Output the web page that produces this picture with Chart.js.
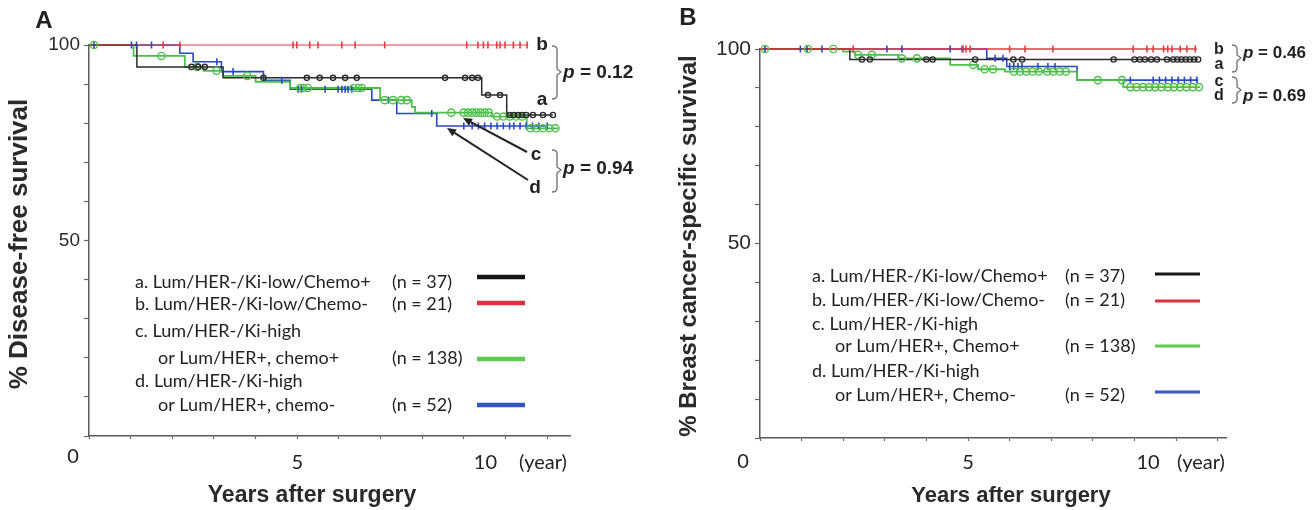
<!DOCTYPE html>
<html><head><meta charset="utf-8">
<script src="https://cdn.jsdelivr.net/npm/chart.js@4.4.1/dist/chart.umd.min.js"></script>
<style>
html,body{margin:0;padding:0;background:#fff;}
#wrap{position:relative;width:1314px;height:510px;overflow:hidden;}
canvas{position:absolute;top:0;}
</style></head><body>
<div id="wrap">
<canvas id="cA" width="657" height="510" style="left:0px"></canvas>
<canvas id="cB" width="657" height="510" style="left:657px"></canvas>
</div>
<script>
// ---------------- DATA ----------------
// Panel A: Disease-free survival (step times in years, survival in %)
const A_aTime = [0, 1.15, 3.22, 9.43, 10.03];
const A_aSurv = [100, 94.4, 91.6, 87.2, 82.1];
const A_aEnd = 11.14;
const A_aCens = [2.46, 2.62, 2.78, 4.19, 5.23, 5.54, 5.86, 6.15, 6.43, 8.55, 9.03, 9.2, 9.34, 9.58, 9.87, 10.1, 10.2, 10.3, 10.4, 10.5, 10.66, 10.9, 11.14];

const A_bTime = [0];
const A_bSurv = [100];
const A_bEnd = 10.55;
const A_bCens = [1.78, 2.18, 4.9, 4.99, 5.3, 5.5, 6.07, 6.39, 7.1, 9.07, 9.34, 9.47, 9.58, 9.79, 9.87, 9.99, 10.19, 10.35, 10.52];

const A_cTime = [0, 1.07, 2.3, 2.75, 3.22, 4.0, 4.83, 6.99, 7.75, 7.83, 9.67, 10.51];
const A_cSurv = [100, 97.2, 94.4, 93.4, 92.1, 90.6, 89.0, 85.9, 84.2, 82.7, 81.7, 78.7];
const A_cEnd = 11.26;
const A_cCens = [0.12, 1.74, 2.6, 3.06, 3.8, 5.07, 5.15, 5.26, 6.35, 6.47, 6.55, 7.1, 7.3, 7.5, 7.63, 8.7, 9.0, 9.1, 9.2, 9.3, 9.4, 9.5, 9.6, 9.8, 9.95, 10.1, 10.25, 10.4, 10.6, 10.75, 10.9, 11.05, 11.2];

const A_dTime = [0, 2.18, 2.5, 3.18, 4.19, 4.83, 6.79, 7.39, 8.35];
const A_dSurv = [100, 97.9, 95.7, 93.2, 91.0, 88.7, 85.9, 82.5, 79.3];
const A_dEnd = 11.02;
const A_dCens = [0.12, 1.02, 1.14, 1.5, 3.07, 3.46, 4.63, 5.02, 5.1, 5.67, 5.98, 6.07, 6.15, 6.22, 6.31, 7.19, 8.23, 9.0, 9.2, 9.35, 9.5, 9.65, 9.8, 9.95, 10.1, 10.2, 10.35, 10.5, 10.65, 10.8, 11.0];

// Panel B: Breast cancer-specific survival
const B_aTime = [0, 2.16];
const B_aSurv = [100, 97.3];
const B_aEnd = 10.53;
const B_aCens = [2.45, 2.64, 4.0, 4.15, 5.17, 6.09, 6.3, 8.5, 9.0, 9.13, 9.25, 9.4, 9.54, 9.78, 9.93, 10.03, 10.13, 10.23, 10.33, 10.43, 10.53];

const B_bTime = [0];
const B_bSurv = [100];
const B_bEnd = 10.5;
const B_bCens = [2.24, 4.88, 4.95, 5.05, 6.0, 6.37, 7.04, 8.97, 9.3, 9.45, 9.7, 9.8, 9.9, 10.1, 10.26, 10.46];

const B_cTime = [0, 2.0, 2.28, 3.32, 4.57, 5.24, 5.89, 7.62, 8.73];
const B_cSurv = [100, 99.3, 98.5, 97.6, 95.9, 94.8, 94.2, 92.0, 90.2];
const B_cEnd = 10.58;
const B_cCens = [0.12, 1.15, 1.76, 2.36, 2.69, 3.41, 3.77, 5.12, 5.4, 5.6, 6.1, 6.25, 6.4, 6.55, 6.7, 6.9, 7.05, 7.2, 7.35, 8.12, 8.7, 8.9, 9.05, 9.2, 9.35, 9.5, 9.65, 9.8, 9.95, 10.1, 10.25, 10.4, 10.55];

const B_dTime = [0, 5.45, 5.93, 7.62];
const B_dSurv = [100, 97.6, 95.5, 92.0];
const B_dEnd = 10.53;
const B_dCens = [0.12, 0.97, 1.13, 1.49, 3.05, 3.41, 4.57, 4.86, 5.65, 5.84, 6.0, 6.1, 6.2, 6.3, 6.68, 6.92, 7.09, 8.9, 9.45, 9.6, 9.75, 9.9, 10.05, 10.2, 10.35, 10.5];

// Axis tick labels
const yTickLabels = [50, 100];
const xTickLabels = ['0', '5', '10'];
const xTickValues = [0, 5, 10];
const xUnit = '(year)';

// Legend text
const legendA = [
  ['a. Lum/HER-/Ki-low/Chemo+', '(n = 37)'],
  ['b. Lum/HER-/Ki-low/Chemo-', '(n = 21)'],
  ['c. Lum/HER-/Ki-high', 'or Lum/HER+, chemo+', '(n = 138)'],
  ['d. Lum/HER-/Ki-high', 'or Lum/HER+, chemo-', '(n = 52)']
];
const legendB = [
  ['a. Lum/HER-/Ki-low/Chemo+', '(n = 37)'],
  ['b. Lum/HER-/Ki-low/Chemo-', '(n = 21)'],
  ['c. Lum/HER-/Ki-high', 'or Lum/HER+, Chemo+', '(n = 138)'],
  ['d. Lum/HER-/Ki-high', 'or Lum/HER+, Chemo-', '(n = 52)']
];
const pValuesA = ['0.12', '0.94'];
const pValuesB = ['0.46', '0.69'];

// ---------------- STYLE ----------------
const COL = {a: '#2b2b2b', b: '#e23a3f', c: '#4cc04a', d: '#2a48c2'};
const LEGCOL = {a: '#151515', b: '#d8323c', c: '#5ccc4c', d: '#3558c0'};
const SANS = '"Liberation Sans", Arial, sans-serif';
const CAL = 'Lato, "Open Sans", sans-serif';

function survAt(times, surv, t) {
  let v = surv[0];
  for (let i = 0; i < times.length; i++) if (times[i] <= t) v = surv[i];
  return v;
}
function stepData(times, surv, end) {
  const d = times.map((t, i) => ({x: t, y: surv[i]}));
  d.push({x: end, y: surv[surv.length - 1]});
  return d;
}
function censData(times, surv, cens) {
  return cens.map(t => ({x: t, y: survAt(times, surv, t)}));
}
function seriesSets(times, surv, end, cens, key, lw, mark) {
  return [
    {data: stepData(times, surv, end), showLine: true, stepped: true, borderColor: COL[key],
     borderWidth: lw, pointRadius: 0, clip: false, order: 2},
    Object.assign({data: censData(times, surv, cens), showLine: false, borderColor: COL[key],
     backgroundColor: 'rgba(0,0,0,0)', clip: false, order: 1}, mark)
  ];
}
const MARK = {
  a: {pointStyle: 'circle', pointRadius: 2.6, pointBorderWidth: 1.4},
  b: {pointStyle: 'line', pointRotation: 90, pointRadius: 3.5, pointBorderWidth: 1.6},
  c: {pointStyle: 'circle', pointRadius: 3.6, pointBorderWidth: 1.4},
  d: {pointStyle: 'line', pointRotation: 90, pointRadius: 3.5, pointBorderWidth: 1.6}
};

// ---------------- drawing helpers ----------------
function txt(ctx, s, x, y, font, color, align) {
  ctx.font = font; ctx.fillStyle = color || '#222';
  ctx.textAlign = align || 'left'; ctx.textBaseline = 'middle';
  ctx.fillText(s, x, y);
}
function pval(ctx, val, x, y, size) {
  ctx.textBaseline = 'middle'; ctx.textAlign = 'left'; ctx.fillStyle = '#222';
  ctx.font = 'italic bold ' + size + 'px ' + SANS;
  ctx.fillText('p', x, y);
  const w = ctx.measureText('p').width;
  ctx.font = 'bold ' + size + 'px ' + SANS;
  ctx.fillText(' = ' + val, x + w, y);
}
function brace(ctx, x, y1, y2, ym) {
  ctx.beginPath();
  ctx.moveTo(x - 5, y1);
  ctx.quadraticCurveTo(x, y1, x, y1 + 4);
  ctx.lineTo(x, ym - 3); ctx.lineTo(x + 4, ym); ctx.lineTo(x, ym + 3);
  ctx.lineTo(x, y2 - 4);
  ctx.quadraticCurveTo(x, y2, x - 5, y2);
  ctx.strokeStyle = '#777'; ctx.lineWidth = 1.4; ctx.stroke();
}
function arrow(ctx, x1, y1, x2, y2) {
  ctx.strokeStyle = '#222'; ctx.fillStyle = '#222'; ctx.lineWidth = 2;
  const a = Math.atan2(y2 - y1, x2 - x1);
  const hx = x2 - 9 * Math.cos(a), hy = y2 - 9 * Math.sin(a);
  ctx.beginPath(); ctx.moveTo(x1, y1); ctx.lineTo(hx, hy); ctx.stroke();
  ctx.beginPath(); ctx.moveTo(x2, y2);
  ctx.lineTo(hx + 4 * Math.sin(a), hy - 4 * Math.cos(a));
  ctx.lineTo(hx - 4 * Math.sin(a), hy + 4 * Math.cos(a));
  ctx.closePath(); ctx.fill();
}
function rotTxt(ctx, s, x, y, font) {
  ctx.save(); ctx.translate(x, y); ctx.rotate(-Math.PI / 2);
  txt(ctx, s, 0, 0, font, '#2a2a2a', 'center'); ctx.restore();
}

function drawLegend(ctx, L, cfg) {
  const f = '18px ' + CAL;
  const keys = ['a', 'b', 'c', 'd'];
  keys.forEach((k, i) => {
    const item = L[i], r = cfg.rows[i];
    txt(ctx, item[0], cfg.x, r[0], f, '#222');
    if (item.length === 3) txt(ctx, item[1], cfg.x2, r[1], f, '#222');
    txt(ctx, item[item.length - 1], cfg.nx, r[r.length - 1], f, '#222');
    const ly = cfg.lineY[i];
    ctx.beginPath(); ctx.moveTo(cfg.l1, ly); ctx.lineTo(cfg.l2, ly);
    ctx.strokeStyle = LEGCOL[k]; ctx.lineWidth = cfg.lw; ctx.stroke();
  });
}

function makePlugin(spec) {
  return {
    id: 'km' + spec.name,
    afterDraw(chart) {
      const ctx = chart.ctx, xs = chart.scales.x;
      ctx.save();
      ctx.translate(-spec.offset, 0);
      // x tick labels
      xTickValues.forEach((v, i) => {
        const px = xs.getPixelForValue(v) + spec.offset + spec.xLabDx[i];
        txt(ctx, xTickLabels[i], px, spec.xLabY[i], '20px ' + CAL, '#222', 'center');
      });
      txt(ctx, xUnit, spec.unitX, spec.xLabY[2], '20px ' + CAL, '#222', 'center');
      // axis titles
      txt(ctx, 'Years after surgery', spec.xTitle[0], spec.xTitle[1], 'bold ' + spec.xTitle[2] + 'px ' + SANS, '#2a2a2a', 'center');
      rotTxt(ctx, spec.yTitleText, spec.yTitle[0], spec.yTitle[1], 'bold ' + spec.yTitle[2] + 'px ' + SANS);
      // panel letter
      txt(ctx, spec.name, spec.letter[0], spec.letter[1], 'bold 24px ' + SANS, '#222', 'center');
      drawLegend(ctx, spec.legend, spec.leg);
      spec.annot(ctx);
      ctx.restore();
    }
  };
}

function makeChart(id, spec, datasets) {
  return new Chart(document.getElementById(id), {
    type: 'scatter',
    data: {datasets},
    options: {
      responsive: false, animation: false, events: [],
      layout: {padding: {top: spec.top, right: 657 - spec.right, left: 0, bottom: 0}},
      plugins: {legend: {display: false}, tooltip: {enabled: false}},
      scales: {
        x: {type: 'linear', min: 0, max: spec.xmax,
            afterFit: s => { s.height = 510 - spec.bottom; },
            ticks: {display: false, stepSize: 1, includeBounds: false},
            grid: {drawOnChartArea: false, drawTicks: true, tickLength: 3, color: '#666', tickWidth: 1.2},
            border: {display: true, color: '#5a5a5a', width: 1.5}},
        y: {type: 'linear', min: 0, max: 100,
            afterFit: s => { s.width = spec.left; },
            ticks: {stepSize: 10, padding: 4, color: '#2a2a2a',
                    font: {family: SANS, size: spec.yTickSize},
                    callback: v => yTickLabels.includes(v) ? String(v) : ''},
            grid: {drawOnChartArea: false, drawTicks: true, tickLength: 5, color: '#666', tickWidth: 1.2},
            border: {display: true, color: '#5a5a5a', width: 1.5}}
      }
    },
    plugins: [makePlugin(spec)]
  });
}

// ---------------- Panel A ----------------
const specA = {
  name: 'A', offset: 0, left: 89, right: 570, top: 45, bottom: 436, xmax: 11.55, yTickSize: 19,
  xLabDx: [-16, 0, -20], xLabY: [457, 463, 463], unitX: 543,
  xTitle: [312, 496, 23], yTitle: [20, 244, 26], yTitleText: '% Disease-free survival',
  letter: [44, 21], legend: legendA,
  leg: {x: 135, x2: 158, nx: 392, rows: [[282], [304], [331, 358], [381, 405]],
        lineY: [277, 303, 359, 405], l1: 477, l2: 525, lw: 4.5},
  annot: ctx => {
    const f = 'bold 19px ' + SANS;
    txt(ctx, 'b', 542, 45, f, '#222', 'center');
    txt(ctx, 'a', 542, 100, f, '#222', 'center');
    txt(ctx, 'c', 536, 155, f, '#222', 'center');
    txt(ctx, 'd', 535, 188, f, '#222', 'center');
    brace(ctx, 557, 46, 99, 72);
    brace(ctx, 557, 150, 192, 170);
    pval(ctx, pValuesA[0], 563, 73, 19);
    pval(ctx, pValuesA[1], 563, 169, 19);
    arrow(ctx, 527, 152, 463, 118);
    arrow(ctx, 528, 180, 447, 128);
  }
};
const dsA = [].concat(
  seriesSets(A_bTime, A_bSurv, A_bEnd, A_bCens, 'b', 1.2, MARK.b),
  seriesSets(A_aTime, A_aSurv, A_aEnd, A_aCens, 'a', 1.5, MARK.a),
  seriesSets(A_cTime, A_cSurv, A_cEnd, A_cCens, 'c', 1.8, MARK.c),
  seriesSets(A_dTime, A_dSurv, A_dEnd, A_dCens, 'd', 1.6, MARK.d)
);
makeChart('cA', specA, dsA);

// ---------------- Panel B ----------------
const specB = {
  name: 'B', offset: 657, left: 103, right: 569, top: 49, bottom: 438, xmax: 11.2, yTickSize: 21,
  xLabDx: [-17, 0, -28], xLabY: [462, 463, 463], unitX: 1201,
  xTitle: [1011, 496, 22], yTitle: [689, 246, 24], yTitleText: '% Breast cancer-specific survival',
  letter: [688, 18], legend: legendB,
  leg: {x: 812, x2: 835, nx: 1065, rows: [[276], [300], [324, 346], [371, 395]],
        lineY: [274, 301, 346, 392], l1: 1155, l2: 1200, lw: 3},
  annot: ctx => {
    const f = 'bold 16px ' + SANS;
    txt(ctx, 'b', 1219, 50, f, '#222', 'center');
    txt(ctx, 'a', 1219, 65, f, '#222', 'center');
    txt(ctx, 'c', 1219, 82, f, '#222', 'center');
    txt(ctx, 'd', 1219, 96, f, '#222', 'center');
    brace(ctx, 1237, 45, 72, 58);
    brace(ctx, 1237, 77, 103, 90);
    pval(ctx, pValuesB[0], 1243, 53, 17);
    pval(ctx, pValuesB[1], 1243, 96, 17);
  }
};
const dsB = [].concat(
  seriesSets(B_bTime, B_bSurv, B_bEnd, B_bCens, 'b', 1.4, MARK.b),
  seriesSets(B_aTime, B_aSurv, B_aEnd, B_aCens, 'a', 1.5, MARK.a),
  seriesSets(B_cTime, B_cSurv, B_cEnd, B_cCens, 'c', 1.8, MARK.c),
  seriesSets(B_dTime, B_dSurv, B_dEnd, B_dCens, 'd', 1.6, MARK.d)
);
makeChart('cB', specB, dsB);
</script>
</body></html>
